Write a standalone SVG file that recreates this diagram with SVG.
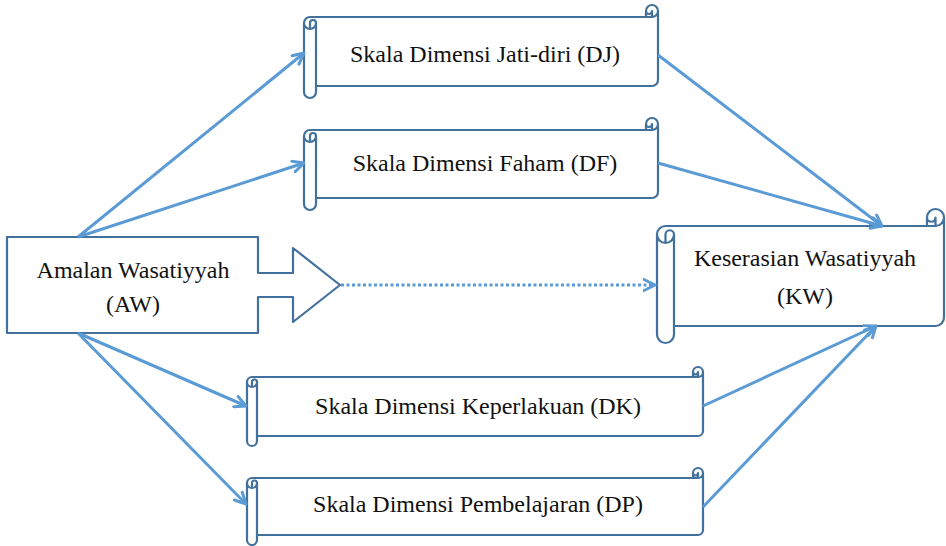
<svg xmlns="http://www.w3.org/2000/svg" width="946" height="546" viewBox="0 0 946 546">
<style>
.shape{fill:#ffffff;stroke:#41719C;stroke-width:2.2;stroke-linejoin:round}
.conn{fill:none;stroke:#5B9BD5;stroke-width:3}
.dot{stroke-dasharray:3 2.5}
.lbl{font-family:"Liberation Serif","Times New Roman",serif;font-size:24px;fill:#111;text-anchor:middle}
</style>
<defs>
<marker id="arr" viewBox="0 0 14 14" refX="12.5" refY="7" markerWidth="14" markerHeight="14" markerUnits="userSpaceOnUse" orient="auto">
<path d="M1.5,1.5 L12.5,7 L1.5,12.5" fill="none" stroke="#5B9BD5" stroke-width="3" stroke-linecap="round" stroke-linejoin="round"/>
</marker>
</defs>
<rect width="946" height="546" fill="#ffffff"/>
<g id="AW">
<path class="shape" d="M7 237 L258 237 L258 273 L293 273 L293 248 L340 285 L293 322 L293 297 L258 297 L258 333 L7 333 Z"/>
<text class="lbl" x="133" y="278">Amalan Wasatiyyah</text>
<text class="lbl" x="133" y="312">(AW)</text>
</g>
<g id="DJ">
<path class="shape" d="M304 23 A6 6 0 0 1 310 17 L646 17 L646 11 A6 6 0 0 1 658 11 L658 80 A6 6 0 0 1 652 86 L316 86 L316 92 A6 6 0 0 1 304 92 Z M646 17 L652 17 A6 6 0 0 0 658 11 M652 17 L652 11 A3 3 0 0 1 646 11 M310 29 L310 23 A3 3 0 0 1 316 23 A6 6 0 0 1 304 23 M316 23 L316 86"/>
<text class="lbl" x="485" y="62">Skala Dimensi Jati-diri (DJ)</text>
</g>
<g id="DF">
<path class="shape" d="M304 136 A6 6 0 0 1 310 130 L646 130 L646 124 A6 6 0 0 1 658 124 L658 192 A6 6 0 0 1 652 198 L316 198 L316 204 A6 6 0 0 1 304 204 Z M646 130 L652 130 A6 6 0 0 0 658 124 M652 130 L652 124 A3 3 0 0 1 646 124 M310 142 L310 136 A3 3 0 0 1 316 136 A6 6 0 0 1 304 136 M316 136 L316 198"/>
<text class="lbl" x="485" y="171">Skala Dimensi Faham (DF)</text>
</g>
<g id="KW">
<path class="shape" d="M657 234.5 A8.5 8.5 0 0 1 665.5 226 L927 226 L927 217.5 A8.5 8.5 0 0 1 944 217.5 L944 317.5 A8.5 8.5 0 0 1 935.5 326 L674 326 L674 334.5 A8.5 8.5 0 0 1 657 334.5 Z M927 226 L935.5 226 A8.5 8.5 0 0 0 944 217.5 M935.5 226 L935.5 217.5 A4.25 4.25 0 0 1 927 217.5 M665.5 243 L665.5 234.5 A4.25 4.25 0 0 1 674 234.5 A8.5 8.5 0 0 1 657 234.5 M674 234.5 L674 326"/>
<text class="lbl" x="805" y="266">Keserasian Wasatiyyah</text>
<text class="lbl" x="805" y="304">(KW)</text>
</g>
<g id="DK">
<path class="shape" d="M247 382 A5 5 0 0 1 252 377 L693 377 L693 372 A5 5 0 0 1 703 372 L703 431 A5 5 0 0 1 698 436 L257 436 L257 441 A5 5 0 0 1 247 441 Z M693 377 L698 377 A5 5 0 0 0 703 372 M698 377 L698 372 A2.5 2.5 0 0 1 693 372 M252 387 L252 382 A2.5 2.5 0 0 1 257 382 A5 5 0 0 1 247 382 M257 382 L257 436"/>
<text class="lbl" x="478" y="414">Skala Dimensi Keperlakuan (DK)</text>
</g>
<g id="DP">
<path class="shape" d="M247 483 A5 5 0 0 1 252 478 L693 478 L693 473 A5 5 0 0 1 703 473 L703 530 A5 5 0 0 1 698 535 L257 535 L257 540 A5 5 0 0 1 247 540 Z M693 478 L698 478 A5 5 0 0 0 703 473 M698 478 L698 473 A2.5 2.5 0 0 1 693 473 M252 488 L252 483 A2.5 2.5 0 0 1 257 483 A5 5 0 0 1 247 483 M257 483 L257 535"/>
<text class="lbl" x="478" y="512">Skala Dimensi Pembelajaran (DP)</text>
</g>
<g id="connectors">
<line class="conn" x1="78" y1="237" x2="304" y2="53" marker-end="url(#arr)"/>
<line class="conn" x1="78" y1="237" x2="304" y2="163" marker-end="url(#arr)"/>
<line class="conn" x1="78" y1="333" x2="246" y2="406" marker-end="url(#arr)"/>
<line class="conn" x1="78" y1="333" x2="246" y2="504" marker-end="url(#arr)"/>
<line class="conn" x1="658" y1="55" x2="882" y2="226" marker-end="url(#arr)"/>
<line class="conn" x1="658" y1="163" x2="882" y2="226" marker-end="url(#arr)"/>
<line class="conn" x1="703" y1="406" x2="876" y2="326" marker-end="url(#arr)"/>
<line class="conn" x1="703" y1="507" x2="876" y2="326" marker-end="url(#arr)"/>
<line class="conn dot" x1="341" y1="285" x2="655" y2="285" marker-end="url(#arr)"/>
</g>
</svg>
